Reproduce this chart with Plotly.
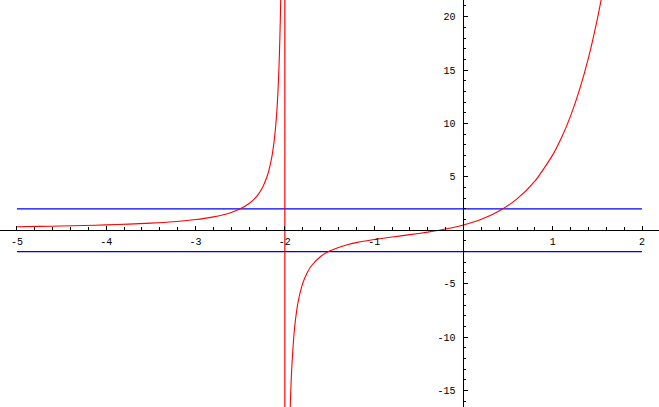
import plotly.graph_objects as go

# Left branch of the red curve
left_x = [-5.0, -4.75, -4.5, -4.25, -4.0, -3.75, -3.5, -3.25, -3.0, -2.9, -2.8, -2.7,
          -2.6, -2.5, -2.4, -2.35, -2.3, -2.25, -2.2, -2.18, -2.15, -2.14, -2.12, -2.1,
          -2.09, -2.08, -2.07, -2.06, -2.05, -2.045]
left_y = [0.333, 0.364, 0.400, 0.444, 0.500, 0.571, 0.668, 0.800, 1.002, 1.114, 1.254, 1.433,
          1.672, 2.007, 2.508, 2.866, 3.343, 4.011, 5.012, 5.569, 6.680, 7.157, 8.348, 10.015,
          11.126, 12.516, 14.302, 16.683, 20.017, 22.24]

# Right branch of the red curve
right_x = [-1.955, -1.94, -1.93, -1.92, -1.9, -1.88, -1.85, -1.8, -1.75, -1.7, -1.6, -1.5,
           -1.4, -1.3, -1.2, -1.1, -1.0, -0.8, -0.6, -0.4, -0.2, 0.0, 0.2, 0.4, 0.6, 0.8,
           1.0, 1.1, 1.2, 1.3, 1.4, 1.5, 1.55]
right_y = [-22.20, -16.646, -14.265, -12.478, -9.978, -8.310, -6.642, -4.973, -3.970, -3.300,
           -2.459, -1.950, -1.606, -1.354, -1.159, -1.000, -0.865, -0.632, -0.413, -0.176,
           0.115, 0.5, 1.037, 1.809, 2.936, 4.596, 7.056, 8.703, 10.711, 13.161, 16.151,
           19.800, 21.916]

# Vertical jump line at the asymptote
jump_x = [-2.0, -2.0]
jump_y = [30.0, -30.0]

# Horizontal blue lines
hline_x = [-5.0, 2.0]
hline_upper = [2.0, 2.0]
hline_lower = [-2.0, -2.0]

x_ticks = [-5, -4, -3, -2, -1, 1, 2]
x_tick_labels = ["-5", "-4", "-3", "-2", "-1", "1", "2"]
y_ticks = [-15, -10, -5, 5, 10, 15, 20]
y_tick_labels = ["-15", "-10", "-5", "5", "10", "15", "20"]

x_range = [-5.19, 2.19]
y_range = [-16.55, 21.56]

x_minor = [round(-5 + 0.2 * i, 2) for i in range(36) if (i % 5) != 0]
y_minor = [v for v in range(-16, 22) if v % 5 != 0]

red = "#FF0000"
blue = "#0000FF"

fig = go.Figure()
fig.add_trace(go.Scatter(x=hline_x, y=hline_upper, mode="lines", line=dict(color=blue, width=1.2)))
fig.add_trace(go.Scatter(x=hline_x, y=hline_lower, mode="lines", line=dict(color=blue, width=1.2)))
fig.add_trace(go.Scatter(x=left_x, y=left_y, mode="lines", line=dict(color=red, width=1.1, shape="spline", smoothing=0.6)))
fig.add_trace(go.Scatter(x=jump_x, y=jump_y, mode="lines", line=dict(color=red, width=1.2)))
fig.add_trace(go.Scatter(x=right_x, y=right_y, mode="lines", line=dict(color=red, width=1.1, shape="spline", smoothing=0.6)))

xpos = (0 - y_range[0]) / (y_range[1] - y_range[0])
ypos = (0 - x_range[0]) / (x_range[1] - x_range[0])

font = dict(family="Liberation Mono, Courier New, monospace", size=10, color="black")

fig.update_layout(
    width=659, height=407,
    margin=dict(l=0, r=0, t=0, b=0, autoexpand=False),
    paper_bgcolor="white", plot_bgcolor="white",
    showlegend=False,
    xaxis=dict(
        range=x_range, anchor="free", position=xpos, side="bottom", automargin=False,
        showgrid=False, zeroline=False, showline=True, linecolor="black", linewidth=1,
        tickmode="array", tickvals=x_ticks, ticktext=x_tick_labels,
        ticks="inside", ticklen=4, tickcolor="black", tickwidth=1,
        minor=dict(tickmode="array", tickvals=x_minor, ticks="inside", ticklen=3, tickcolor="black", tickwidth=1),
        tickfont=font, ticklabelstandoff=2,
    ),
    yaxis=dict(
        range=y_range, anchor="free", position=ypos, side="left", automargin=False,
        showgrid=False, zeroline=False, showline=True, linecolor="black", linewidth=1,
        tickmode="array", tickvals=y_ticks, ticktext=y_tick_labels,
        ticks="inside", ticklen=4, tickcolor="black", tickwidth=1,
        minor=dict(tickmode="array", tickvals=y_minor, ticks="inside", ticklen=2, tickcolor="black", tickwidth=1),
        tickfont=font, ticklabelstandoff=6,
    ),
)

fig.write_html("out.html", config={"displayModeBar": False},
               post_script="document.body.style.margin='0';document.body.style.padding='0';")
